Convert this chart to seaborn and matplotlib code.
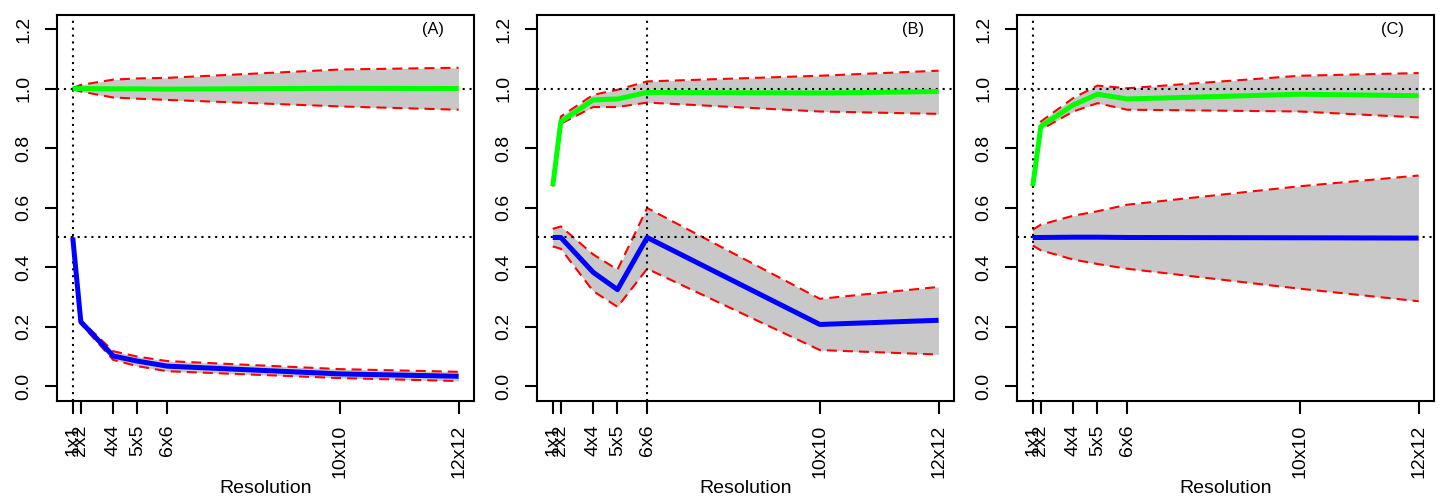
import numpy as np
import pandas as pd
import matplotlib
matplotlib.use("Agg")
import matplotlib.pyplot as plt
import seaborn as sns

# Grid resolutions and the number of cells each one contains
res_labels = ["1x1", "2x2", "4x4", "5x5", "6x6", "10x10", "12x12"]
n_cells = [1, 4, 16, 25, 36, 100, 144]

# Panel A
a_green = [1.000, 1.000, 0.999, 0.999, 0.998, 1.001, 1.000]
a_green_hi = [1.002, 1.012, 1.030, 1.034, 1.036, 1.064, 1.070]
a_green_lo = [0.998, 0.990, 0.970, 0.966, 0.962, 0.940, 0.929]
a_blue = [0.500, 0.217, 0.102, 0.085, 0.068, 0.042, 0.034]
a_blue_hi = [0.505, 0.222, 0.118, 0.100, 0.085, 0.058, 0.049]
a_blue_lo = [0.495, 0.210, 0.089, 0.068, 0.051, 0.028, 0.018]

# Panel B
b_green = [0.672, 0.889, 0.962, 0.965, 0.987, 0.985, 0.990]
b_green_hi = [0.672, 0.906, 0.979, 0.996, 1.024, 1.043, 1.060]
b_green_lo = [0.672, 0.882, 0.938, 0.938, 0.953, 0.923, 0.915]
b_blue = [0.500, 0.500, 0.383, 0.325, 0.500, 0.208, 0.222]
b_blue_hi = [0.529, 0.537, 0.443, 0.392, 0.599, 0.294, 0.334]
b_blue_lo = [0.470, 0.462, 0.320, 0.267, 0.395, 0.122, 0.107]

# Panel C
c_green = [0.672, 0.873, 0.945, 0.981, 0.965, 0.981, 0.976]
c_green_hi = [0.672, 0.889, 0.968, 1.010, 1.001, 1.043, 1.052]
c_green_lo = [0.672, 0.862, 0.923, 0.951, 0.929, 0.923, 0.903]
c_blue = [0.500, 0.500, 0.501, 0.501, 0.500, 0.499, 0.498]
c_blue_hi = [0.526, 0.543, 0.573, 0.588, 0.610, 0.672, 0.708]
c_blue_lo = [0.473, 0.457, 0.426, 0.411, 0.395, 0.328, 0.286]

panel_tags = ["(A)", "(B)", "(C)"]
ref_vlines = [1, 36, 1]
ref_hlines = [1.0, 0.5]

panels = [
    [(a_green, a_green_lo, a_green_hi, "#00FF00"), (a_blue, a_blue_lo, a_blue_hi, "#0000FF")],
    [(b_green, b_green_lo, b_green_hi, "#00FF00"), (b_blue, b_blue_lo, b_blue_hi, "#0000FF")],
    [(c_green, c_green_lo, c_green_hi, "#00FF00"), (c_blue, c_blue_lo, c_blue_hi, "#0000FF")],
]

sns.set_style("white")
plt.rcParams["font.family"] = ["Liberation Sans", "DejaVu Sans"]

fig = plt.figure(figsize=(14.4, 5.0), dpi=100)
lefts = [57.3, 537.3, 1017.3]
W, H = 1440.0, 500.0

dash = (0, (4.8, 2.9))
dot = (0, (1.0, 2.3))

for i, left in enumerate(lefts):
    ax = fig.add_axes([left / W, (H - 400.7) / H, 416.7 / W, 386.0 / H])
    # confidence bands with dashed red bounds
    for mean, lo, hi, col in panels[i]:
        df = pd.DataFrame({"cells": n_cells, "mean": mean, "lo": lo, "hi": hi})
        ax.fill_between(df["cells"], df["lo"], df["hi"], color="#C8C8C8", lw=0, zorder=1)
        sns.lineplot(data=df, x="cells", y="hi", ax=ax, color="#FF0000", lw=1.5,
                     linestyle=dash, errorbar=None, zorder=2)
        sns.lineplot(data=df, x="cells", y="lo", ax=ax, color="#FF0000", lw=1.5,
                     linestyle=dash, errorbar=None, zorder=2)
    # dotted reference lines
    for yv in ref_hlines:
        ax.axhline(yv, color="black", lw=1.5, linestyle=dot, zorder=3)
    ax.axvline(ref_vlines[i], color="black", lw=1.5, linestyle=dot, zorder=3)
    # mean curves
    for mean, lo, hi, col in panels[i]:
        df = pd.DataFrame({"cells": n_cells, "mean": mean})
        sns.lineplot(data=df, x="cells", y="mean", ax=ax, color=col, lw=3.6,
                     errorbar=None, zorder=4, solid_capstyle="butt")

    ax.set_xlim(1 - 0.04 * 143, 144 + 0.04 * 143)
    ax.set_ylim(-0.048, 1.248)
    ax.set_xticks(n_cells)
    ax.set_xticklabels(res_labels, rotation=90)
    ax.set_yticks([0.0, 0.2, 0.4, 0.6, 0.8, 1.0, 1.2])
    ax.set_yticklabels(["0.0", "0.2", "0.4", "0.6", "0.8", "1.0", "1.2"], rotation=90, va="center")
    ax.tick_params(axis="both", direction="out", length=9, width=1.5, color="black",
                   labelsize=14, labelcolor="black", bottom=True, left=True)
    ax.tick_params(axis="y", pad=9)
    ax.tick_params(axis="x", pad=8)
    for s in ax.spines.values():
        s.set_color("black")
        s.set_linewidth(1.5)
    ax.set_ylabel("")
    ax.set_xlabel("Resolution", fontsize=14, color="black")
    ax.xaxis.set_label_coords(0.5, -0.205)
    ax.text(134.5, 1.197, panel_tags[i], ha="center", va="center", fontsize=11.8, color="black")

fig.savefig("out.png", dpi=100, facecolor="white")
